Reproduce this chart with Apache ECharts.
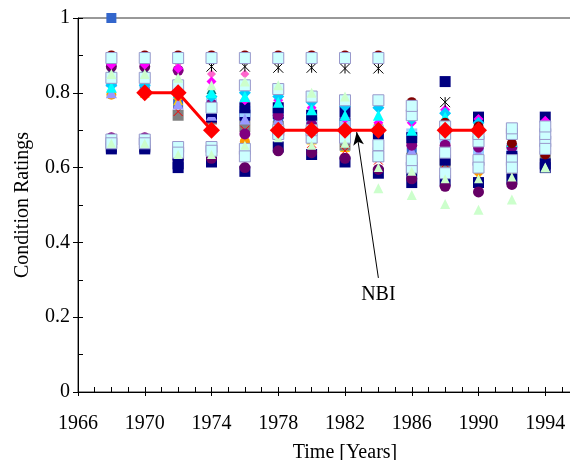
<!DOCTYPE html>
<html>
<head>
<meta charset="utf-8">
<script src="https://cdn.jsdelivr.net/npm/echarts@6/dist/echarts.min.js"></script>
<style>
  html, body { margin: 0; padding: 0; background: #fff; }
  #chart { width: 570px; height: 460px; }
</style>
</head>
<body>
<div id="chart"></div>
<script>
// inspection years (x) and rating columns, one array per bridge series
const years = [1968, 1970, 1972, 1974, 1976, 1978, 1980, 1982, 1984, 1986, 1988, 1990, 1992, 1994];
const nbi = [null, 0.8, 0.8, 0.7, null, 0.7, 0.7, 0.7, 0.7, null, 0.7, 0.7, null, null];

const navy1      = [0.65, 0.65, 0.60, 0.615, 0.59, 0.655, 0.635, 0.615, 0.585, 0.56, 0.83, 0.735, 0.625, 0.735];
const blue       = [1.0, 0.82, 0.77, 0.75, 0.72, 0.73, 0.71, 0.70, 0.67, 0.64, 0.64, 0.62, 0.62, 0.62];
const teal       = [0.86, 0.86, 0.82, 0.81, 0.68, 0.72, 0.69, 0.68, 0.67, 0.635, 0.63, 0.63, 0.61, 0.645];
const yellow     = [0.80, 0.80, 0.78, 0.79, 0.64, 0.70, 0.675, 0.655, 0.63, 0.61, 0.58, 0.575, 0.58, 0.61];
const orange     = [0.795, 0.80, 0.79, 0.78, 0.67, 0.765, 0.73, 0.72, 0.71, 0.665, 0.60, 0.59, 0.59, 0.615];
const gray       = [0.66, 0.66, 0.74, 0.73, 0.71, 0.71, 0.68, 0.66, 0.64, 0.625, 0.615, 0.605, 0.60, 0.63];
const redx       = [0.83, 0.67, 0.75, 0.73, 0.70, 0.705, 0.665, 0.645, 0.62, 0.60, 0.61, 0.60, 0.595, 0.625];
const navy3      = [null, null, 0.635, 0.735, 0.74, 0.745, 0.72, 0.72, 0.63, 0.59, 0.565, 0.56, 0.57, 0.61];
const skyblue    = [0.83, 0.83, 0.81, 0.77, 0.75, 0.75, 0.73, 0.71, 0.70, 0.69, 0.68, 0.65, 0.65, 0.68];
const lavender   = [0.80, 0.82, 0.77, 0.74, 0.73, 0.73, 0.70, 0.695, 0.68, 0.645, 0.67, 0.64, 0.64, 0.665];
const purple     = [0.68, 0.68, 0.86, 0.77, 0.69, 0.74, 0.715, 0.70, 0.65, 0.66, 0.66, 0.655, 0.655, 0.675];
const purple2    = [0.87, 0.87, 0.62, 0.625, 0.60, 0.645, 0.64, 0.625, 0.595, 0.57, 0.55, 0.535, 0.555, 0.66];
const navy2      = [0.655, 0.655, 0.61, 0.75, 0.76, 0.76, 0.74, 0.75, 0.69, 0.68, 0.62, 0.67, 0.63, 0.60];
const pink       = [0.885, 0.885, 0.88, 0.85, 0.85, 0.80, 0.79, 0.78, 0.77, 0.755, 0.725, 0.68, 0.68, 0.72];
const magenta    = [0.875, 0.875, 0.865, 0.83, 0.78, 0.78, 0.76, 0.73, 0.72, 0.72, 0.755, 0.73, 0.695, 0.725];
const cyan       = [0.82, 0.82, 0.80, 0.79, 0.80, 0.79, 0.775, 0.765, 0.76, 0.73, 0.745, 0.72, 0.685, 0.70];
const aqua       = [0.815, 0.81, 0.80, 0.80, 0.79, 0.775, 0.755, 0.74, 0.74, 0.70, 0.735, 0.70, 0.67, 0.685];
const darkred    = [0.90, 0.90, 0.90, 0.90, 0.90, 0.90, 0.90, 0.90, 0.90, 0.775, 0.72, 0.71, 0.665, 0.635];
const star       = [null, null, null, 0.87, 0.87, 0.867, 0.867, 0.865, 0.865, null, 0.775, null, null, null];
const lightcyan4 = [0.675, 0.675, 0.655, 0.655, 0.65, 0.70, 0.68, 0.69, 0.63, 0.60, 0.64, 0.62, 0.62, 0.67];
const lightcyan3 = [0.84, 0.84, 0.82, 0.76, 0.63, 0.69, 0.70, 0.68, 0.66, 0.62, 0.585, 0.60, 0.60, 0.65];
const lightcyan2 = [0.665, 0.665, 0.64, 0.645, 0.82, 0.81, 0.79, 0.78, 0.78, 0.74, 0.69, 0.67, 0.69, 0.69];
const lightcyan  = [0.893, 0.893, 0.893, 0.893, 0.893, 0.893, 0.893, 0.893, 0.893, 0.765, 0.71, 0.69, 0.705, 0.71];
const lightgreen2 = [0.665, 0.665, 0.635, 0.635, 0.66, 0.68, 0.66, 0.665, 0.60, 0.59, 0.57, 0.57, 0.575, 0.60];
const lightgreen = [0.85, 0.85, 0.84, 0.82, 0.83, 0.82, 0.80, 0.79, 0.545, 0.527, 0.503, 0.487, 0.515, 0.60];

const xTicks = { min: 1966, max: 1998, step: 4, lastLabel: 1994 };
const yTicks = { min: 0, max: 1, step: 0.2 };
const arrowFrom = [1984.0, 0.305];
const arrowTo = [1982.7, 0.695];
const nbiLabelAt = [1984.0, 0.26];

const FONT = "'Liberation Serif', 'Times New Roman', serif";
const XPATH = 'path://M0,0L10,10M10,0L0,10';
const STARPATH = 'path://M0,0L10,10M10,0L0,10M5,0L5,10';

// marker look of every series (Excel-like default markers), drawn in this order
const looks = [
  { data: navy1, symbol: 'rect', size: 11, color: '#000080' },
  { data: blue, symbol: 'rect', size: 10, color: '#3366cc' },
  { data: teal, symbol: 'triangle', size: 10, color: '#008080' },
  { data: yellow, symbol: 'triangle', size: 10, color: '#ffcc00' },
  { data: orange, symbol: 'circle', size: 10, color: '#ff9900' },
  { data: gray, symbol: 'rect', size: 11, color: '#808080' },
  { data: redx, symbol: XPATH, size: 9, color: 'rgba(0,0,0,0)', border: '#ff0000' },
  { data: navy3, symbol: 'rect', size: 11, color: '#000080' },
  { data: skyblue, symbol: 'rect', size: 11, color: '#99ccff' },
  { data: lavender, symbol: 'triangle', size: 11, color: '#9999ff' },
  { data: purple, symbol: 'circle', size: 11, color: '#800080' },
  { data: purple2, symbol: 'circle', size: 11, color: '#660066' },
  { data: navy2, symbol: 'rect', size: 11, color: '#000080' },
  { data: pink, symbol: 'diamond', size: 9, color: '#ff66cc' },
  { data: magenta, symbol: 'diamond', size: 10, color: '#ff00ff' },
  { data: cyan, symbol: 'diamond', size: 12, color: '#00ccff' },
  { data: aqua, symbol: 'triangle', size: 11, color: '#00ffff' },
  { data: darkred, symbol: 'circle', size: 10, color: '#800000' },
  { data: star, symbol: STARPATH, size: 10, color: 'rgba(0,0,0,0)', border: '#000000' },
  { data: lightcyan4, symbol: 'rect', size: 11, color: '#ccffff', border: '#9999cc' },
  { data: lightcyan3, symbol: 'rect', size: 11, color: '#ccffff', border: '#9999cc' },
  { data: lightcyan2, symbol: 'rect', size: 11, color: '#ccffff', border: '#9999cc' },
  { data: lightcyan, symbol: 'rect', size: 11, color: '#ccffff', border: '#9999cc' },
  { data: lightgreen2, symbol: 'triangle', size: 9, color: '#ccffcc' },
  { data: lightgreen, symbol: 'triangle', size: 10, color: '#ccffcc' }
];

function pairs(values) {
  const out = [];
  values.forEach((v, i) => { if (v !== null) out.push([years[i], v]); });
  return out;
}

const scatterSeries = looks.map((l, k) => ({
  name: 'bridge' + (k + 1),
  type: 'scatter',
  symbol: l.symbol,
  symbolSize: l.size,
  clip: false,
  itemStyle: {
    color: l.color,
    opacity: 1,
    borderColor: l.border || l.color,
    borderWidth: l.border ? 1 : 0
  },
  emphasis: { disabled: true },
  data: pairs(l.data),
  z: 2
}));

const chart = echarts.init(document.getElementById('chart'), null, { renderer: 'canvas' });

const axisText = { color: '#000', fontSize: 20, fontFamily: FONT };

chart.setOption({
  animation: false,
  backgroundColor: '#fff',
  grid: {
    left: 78,
    top: 18,
    bottom: 68,
    right: -42,
    outerBoundsMode: 'none',
    containLabel: false,
    show: true,
    borderColor: '#333',
    borderWidth: 1,
    backgroundColor: 'transparent'
  },
  xAxis: [
    {
      type: 'value',
      min: xTicks.min,
      max: xTicks.max,
      interval: xTicks.step,
      position: 'bottom',
      name: 'Time [Years]',
      nameLocation: 'middle',
      nameGap: 51,
      nameTextStyle: { color: '#000', fontSize: 20, fontFamily: FONT },
      axisLine: { lineStyle: { color: '#000', width: 1 } },
      axisTick: { show: true, inside: false, length: 4, lineStyle: { color: '#000' } },
      axisLabel: {
        margin: 22,
        ...axisText,
        formatter: v => (v > xTicks.lastLabel ? '' : String(v))
      },
      splitLine: { show: false }
    },
    {
      type: 'value',
      min: xTicks.min,
      max: xTicks.max,
      interval: xTicks.step,
      position: 'bottom',
      axisLine: { show: false },
      axisTick: { show: true, inside: true, length: 5, lineStyle: { color: '#000' } },
      minorTick: { show: true, splitNumber: 4, length: 5, lineStyle: { color: '#000' } },
      axisLabel: { show: false },
      splitLine: { show: false }
    }
  ],
  yAxis: [
    {
      type: 'value',
      min: yTicks.min,
      max: yTicks.max,
      interval: yTicks.step,
      position: 'left',
      name: 'Condition Ratings',
      nameLocation: 'middle',
      nameGap: 45,
      nameTextStyle: { color: '#000', fontSize: 20, fontFamily: FONT },
      axisLine: { show: true, lineStyle: { color: '#000', width: 1 } },
      axisTick: { show: true, inside: false, length: 5, lineStyle: { color: '#000' } },
      axisLabel: { margin: 8, ...axisText },
      splitLine: { show: false }
    },
    {
      type: 'value',
      min: yTicks.min,
      max: yTicks.max,
      interval: yTicks.step,
      position: 'left',
      axisLine: { show: false },
      axisTick: { show: true, inside: true, length: 5, lineStyle: { color: '#000' } },
      minorTick: { show: true, splitNumber: 2, length: 5, lineStyle: { color: '#000' } },
      axisLabel: { show: false },
      splitLine: { show: false }
    }
  ],
  series: scatterSeries.concat([
    {
      name: 'NBI',
      type: 'line',
      data: years.map((y, i) => [y, nbi[i]]),
      connectNulls: false,
      symbol: 'diamond',
      symbolSize: 17,
      showSymbol: true,
      lineStyle: { color: '#ff0000', width: 3 },
      itemStyle: { color: '#ff0000' },
      emphasis: { disabled: true },
      z: 5,
      markLine: {
        silent: true,
        symbol: ['none', 'arrow'],
        symbolSize: [8, 13],
        label: { show: false },
        lineStyle: { color: '#000', width: 1, type: 'solid' },
        data: [[{ coord: arrowFrom }, { coord: arrowTo }]]
      },
      markPoint: {
        silent: true,
        symbol: 'circle',
        symbolSize: 1,
        itemStyle: { color: 'rgba(0,0,0,0)' },
        label: {
          show: true,
          position: 'inside',
          formatter: 'NBI',
          color: '#000',
          fontSize: 20,
          fontFamily: FONT
        },
        data: [{ coord: nbiLabelAt }]
      }
    }
  ])
});
</script>
</body>
</html>
